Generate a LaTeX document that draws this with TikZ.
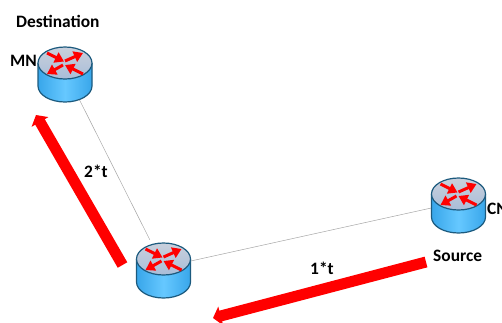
\documentclass[tikz,border=0pt]{standalone}
\usepackage{fontspec}
\setmainfont{Carlito}
\usetikzlibrary{arrows.meta}

\definecolor{outline}{HTML}{1C5A7E}
\definecolor{topa}{HTML}{C9D0DC}
\definecolor{topb}{HTML}{A9BDD8}
\definecolor{sidea}{HTML}{38A6EA}
\definecolor{sideb}{HTML}{66C8FF}

\tikzset{
  router/.style={minimum width=54pt,minimum height=54pt,inner sep=0pt},
  link/.style={draw=black!35,line width=0.5pt},
  flow/.style={draw=red,line width=11pt,-{Triangle[length=8pt,width=19pt]}},
  label/.style={font=\bfseries\fontsize{17.4}{19}\selectfont,inner sep=0pt},
  spoke/.style={draw=red,line width=3pt,-{Triangle[length=9pt,width=11pt]}}
}

% router symbol on top of a named node
\newcommand{\routericon}[1]{
  \begin{scope}[shift={(#1.center)}]
    \path[left color=sidea,right color=sidea,middle color=sideb]
      (-27,-8) -- (-27,15) arc[x radius=27,y radius=16,start angle=180,end angle=0] -- (27,-8) -- cycle;
    \draw[draw=outline,line width=1.2pt] (-27,-8) -- (-27,15) arc[x radius=27,y radius=16,start angle=180,end angle=0] -- (27,-8);
    \draw[draw=outline,line width=1.2pt,top color=topa,bottom color=topb] (0,-8) ellipse[x radius=27,y radius=16];
    \draw[spoke] (-18,-18) -- (-1,-9.5);
    \draw[spoke] (0,-10) -- (18,-18);
    \draw[spoke] (-2,-6) -- (-18,3);
    \draw[spoke] (18,3) -- (0,-6);
  \end{scope}
}

\begin{document}
\begin{tikzpicture}[x=1pt,y=-1pt]
  \useasboundingbox (0,0) rectangle (502,322);

  \node[router] (mn) at (65,71) {};
  \node[router] (rt) at (163.5,267) {};
  \node[router] (cn) at (458.5,202) {};

  \draw[link] (mn) -- (rt);
  \draw[link] (rt) -- (cn);

  \routericon{mn}
  \routericon{rt}
  \routericon{cn}

  \coordinate (a) at (122.5,265);
  \coordinate (b) at (36,115);
  \coordinate (c) at (426,262);
  \coordinate (d) at (213,318);
  \draw[flow] (a) -- (b);
  \draw[flow] (c) -- (d);

  \node[label,anchor=west] (dest) at (16,21) {Destination};
  \node[label,anchor=west] (mnl) at (10,61) {MN};
  \node[label,anchor=west] (cnl) at (487,209) {CN};
  \node[label,anchor=west] (src) at (433,256) {Source};
  \node[label,anchor=west] (tb) at (84,171) {2*t};
  \node[label,anchor=west] (ta) at (310,268) {1*t};
\end{tikzpicture}
\end{document}
